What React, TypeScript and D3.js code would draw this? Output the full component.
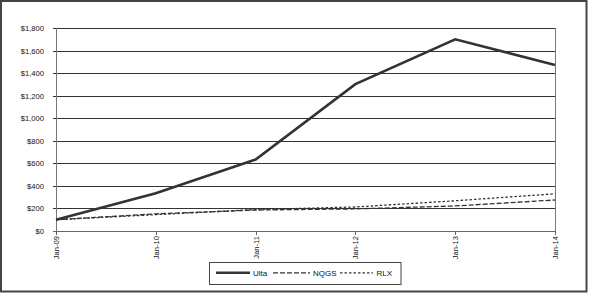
import React from "react";
import * as d3 from "d3";

const categories = ["Jan-09", "Jan-10", "Jan-11", "Jan-12", "Jan-13", "Jan-14"];
const ulta = [100, 334, 634, 1302, 1700, 1472];
const nqgs = [100, 152, 186, 196, 222, 275];
const rlx = [100, 145, 190, 213, 268, 330];
const yTicks = [0, 200, 400, 600, 800, 1000, 1200, 1400, 1600, 1800];
const seriesNames = ["Ulta", "NQGS", "RLX"];

const W = 589;
const H = 293;
const left = 56;
const right = 555;
const top = 28;
const bottom = 231;

export default function App() {
  const x = d3.scalePoint<string>().domain(categories).range([left, right]);
  const y = d3.scaleLinear().domain([0, 1800]).range([bottom, top]);
  const line = d3
    .line<number>()
    .x((_, i) => x(categories[i]) as number)
    .y((d) => y(d));

  const font = "'Liberation Sans', Arial, sans-serif";
  const styles = [
    { data: ulta, width: 2.6, dash: undefined as string | undefined },
    { data: nqgs, width: 1.3, dash: "5,2" },
    { data: rlx, width: 1.3, dash: "2.5,2" },
  ];

  const legendItems = [
    { lx1: 216, lx2: 250, tx: 253 },
    { lx1: 273, lx2: 310, tx: 313 },
    { lx1: 340, lx2: 373, tx: 376.5 },
  ];

  return (
    <svg
      width={W}
      height={H}
      style={{ position: "absolute", left: 0, top: 0, display: "block" }}
    >
      <rect x={0} y={0} width={W} height={H} fill="#fff" />
      <rect
        x={1}
        y={1}
        width={585.5}
        height={290.5}
        fill="none"
        stroke="#444"
        strokeWidth={2}
      />
      {yTicks.map((t) => (
        <g key={t}>
          <line
            x1={left - 3}
            x2={right}
            y1={Math.round(y(t)) + 0.5}
            y2={Math.round(y(t)) + 0.5}
            stroke={t === 0 ? "#666" : "#333"}
            strokeWidth={1}
          />
          <text
            x={44}
            y={Math.round(y(t)) + 0.5}
            dy="0.35em"
            textAnchor="end"
            fontFamily={font}
            fontSize={7.6}
            fill="#111"
          >
            {d3.format("$,")(t)}
          </text>
        </g>
      ))}
      <line x1={left + 0.5} x2={left + 0.5} y1={top} y2={bottom + 4} stroke="#777" strokeWidth={1} />
      <line x1={right + 0.5} x2={right + 0.5} y1={top} y2={bottom + 4} stroke="#777" strokeWidth={1} />
      {categories.map((c) => {
        const cx = Math.round(x(c) as number) + 0.5;
        return (
          <g key={c}>
            <line x1={cx} x2={cx} y1={bottom} y2={bottom + 4} stroke="#666" />
            <text
              transform={`translate(${cx},${bottom + 5}) rotate(-90)`}
              dy="0.35em"
              textAnchor="end"
              fontFamily={font}
              fontSize={7.6}
              fill="#111"
            >
              {c}
            </text>
          </g>
        );
      })}
      {styles.map((s, i) => (
        <path
          key={i}
          d={line(s.data) as string}
          fill="none"
          stroke="#333"
          strokeWidth={s.width}
          strokeDasharray={s.dash}
          strokeLinejoin="miter"
        />
      ))}
      <rect x={209.5} y={262.5} width={191.5} height={22} fill="#fff" stroke="#444" strokeWidth={1} />
      {seriesNames.map((n, i) => (
        <g key={n}>
          <line
            x1={legendItems[i].lx1}
            x2={legendItems[i].lx2}
            y1={272.8}
            y2={272.8}
            stroke="#333"
            strokeWidth={styles[i].width}
            strokeDasharray={styles[i].dash}
          />
          <text
            x={legendItems[i].tx}
            y={273}
            dy="0.35em"
            fontFamily={font}
            fontSize={8}
            fill="#111"
          >
            {n}
          </text>
        </g>
      ))}
    </svg>
  );
}
